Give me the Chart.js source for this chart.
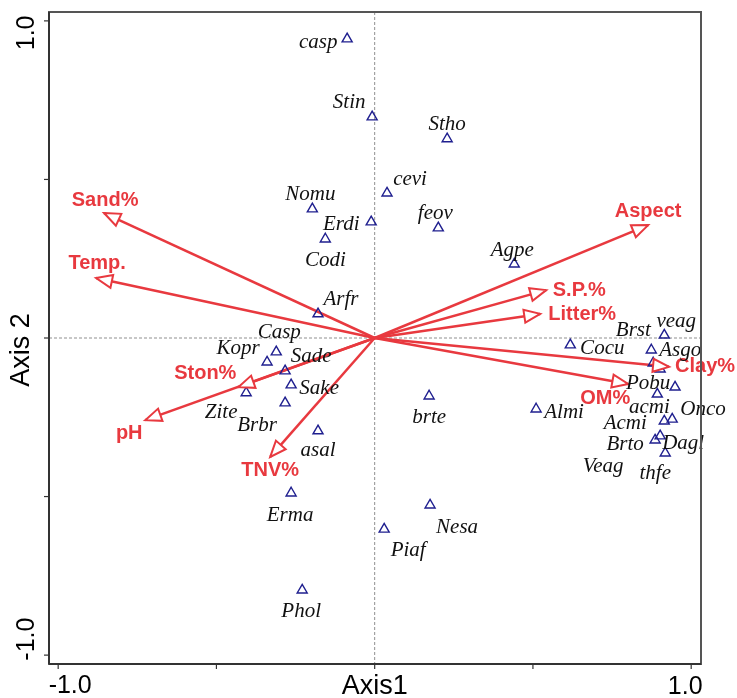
<!DOCTYPE html>
<html>
<head>
<meta charset="utf-8">
<script src="https://cdn.jsdelivr.net/npm/chart.js@4.4.0/dist/chart.umd.min.js"></script>
<style>
  html, body { margin: 0; padding: 0; background: #fff; }
  canvas { display: block; }
</style>
</head>
<body>
<canvas id="biplot" width="737" height="698"></canvas>
<script>
// species scores (axis 1, axis 2)
const species = ['casp', 'Stin', 'Stho', 'cevi', 'Nomu', 'Erdi', 'feov', 'Codi', 'Agpe', 'Arfr',
  'Casp', 'Kopr', 'Sade', 'Sake', 'Zite', 'Brbr', 'asal', 'Erma', 'Phol', 'Piaf',
  'Nesa', 'brte', 'Almi', 'Cocu', 'veag', 'Brst', 'Asgo', 'Pobu', 'Onco', 'acmi',
  'Acmi', 'Dagl', 'Brto', 'Veag', 'thfe'];
const speciesX = [-0.087, -0.008, 0.229, 0.039, -0.197, -0.011, 0.201, -0.156, 0.441, -0.179,
  -0.311, -0.340, -0.283, -0.264, -0.406, -0.283, -0.179, -0.264, -0.229, 0.030,
  0.175, 0.172, 0.510, 0.618, 0.915, 0.874, 0.880, 0.902, 0.949, 0.893,
  0.915, 0.940, 0.886, 0.902, 0.918];
const speciesY = [0.943, 0.697, 0.628, 0.457, 0.407, 0.366, 0.347, 0.312, 0.233, 0.076,
  -0.044, -0.076, -0.104, -0.148, -0.173, -0.205, -0.293, -0.489, -0.795, -0.603,
  -0.527, -0.183, -0.224, -0.022, 0.009, -0.038, -0.079, -0.098, -0.155, -0.177,
  -0.262, -0.256, -0.322, -0.309, -0.363];

// environmental variables (arrow tips)
const envVars = ['Sand%', 'Temp.', 'Ston%', 'pH', 'TNV%', 'Aspect', 'S.P.%', 'Litter%', 'Clay%', 'OM%'];
const envX = [-0.855, -0.880, -0.431, -0.725, -0.330, 0.864, 0.542, 0.523, 0.930, 0.801];
const envY = [0.394, 0.189, -0.155, -0.259, -0.375, 0.356, 0.151, 0.076, -0.091, -0.145];

// axes
const tickValues = [-1, -0.5, 0, 0.5, 1];
const xTickLabels = ['-1.0', '1.0'];
const yTickLabels = ['1.0', '-1.0'];
const xTitle = 'Axis1';
const yTitle = 'Axis 2';

// label placement, px offsets from the mark
const speciesLabelOffset = [[-29, 4], [-23, -14], [0, -14], [23, -14], [-2, -14], [-30, 3], [-3, -14], [0, 21], [-2, -14], [23, -14],
  [3, -19], [-29, -14], [26, -14], [28, 4], [-25, 20], [-28, 22], [0, 20], [-1, 22], [-1, 21], [24, 21],
  [27, 22], [0, 21], [28, 3], [32, 4], [12, -14], [-18, -20], [27, -13], [-12, 14], [28, 22], [-8, 13],
  [-39, 2], [11, 24], [-30, 4], [-57, 30], [-10, 20]];
const envLabelOffset = [[1, -13], [1, -15], [-33, -14], [-16, 13], [0, 14], [0, -14], [33, 0], [42, 1], [36, 0], [-23, 15]];

const RED = '#e8393f';
const NAVY = '#1f1f8f';

const datasets = [{
  label: 'species',
  data: species.map((s, i) => ({ x: speciesX[i], y: speciesY[i] })),
  pointStyle: 'triangle',
  pointRadius: 5.8,
  pointBorderColor: NAVY,
  pointBackgroundColor: 'rgba(0,0,0,0)',
  pointBorderWidth: 1.4,
  showLine: false
}];
envVars.forEach((v, i) => {
  datasets.push({
    label: v,
    type: 'line',
    data: [{ x: 0, y: 0 }, { x: envX[i], y: envY[i] }],
    borderColor: RED,
    borderWidth: 2.5,
    pointRadius: 0,
    fill: false
  });
});

function seg(ctx, x1, y1, x2, y2) {
  ctx.beginPath();
  ctx.moveTo(x1, y1);
  ctx.lineTo(x2, y2);
  ctx.stroke();
}

const biplotPlugin = {
  id: 'biplot',
  beforeDatasetsDraw(chart) {
    const { ctx, chartArea: a, scales: { x, y } } = chart;
    const x0 = x.getPixelForValue(0), y0 = y.getPixelForValue(0);
    ctx.save();
    ctx.strokeStyle = '#8f8f8f';
    ctx.lineWidth = 1;
    ctx.setLineDash([3, 2]);
    seg(ctx, a.left, y0, a.right, y0);
    seg(ctx, x0, a.top, x0, a.bottom);
    ctx.restore();
  },
  afterDatasetsDraw(chart) {
    const { ctx, chartArea: a, scales: { x, y } } = chart;
    const x0 = x.getPixelForValue(0), y0 = y.getPixelForValue(0);
    ctx.save();

    // arrow heads
    ctx.strokeStyle = RED;
    ctx.fillStyle = '#fff';
    ctx.lineWidth = 2;
    ctx.lineJoin = 'miter';
    envVars.forEach((v, i) => {
      const tx = x.getPixelForValue(envX[i]), ty = y.getPixelForValue(envY[i]);
      const dx = tx - x0, dy = ty - y0, len = Math.hypot(dx, dy);
      const ux = dx / len, uy = dy / len;
      const bx = tx - ux * 16, by = ty - uy * 16;
      ctx.beginPath();
      ctx.moveTo(tx, ty);
      ctx.lineTo(bx - uy * 6.5, by + ux * 6.5);
      ctx.lineTo(bx + uy * 6.5, by - ux * 6.5);
      ctx.closePath();
      ctx.fill();
      ctx.stroke();
    });

    // env labels
    ctx.fillStyle = RED;
    ctx.font = 'bold 20px "Liberation Sans", Arial, sans-serif';
    ctx.textAlign = 'center';
    ctx.textBaseline = 'middle';
    envVars.forEach((v, i) => {
      const tx = x.getPixelForValue(envX[i]), ty = y.getPixelForValue(envY[i]);
      ctx.fillText(v, tx + envLabelOffset[i][0], ty + envLabelOffset[i][1]);
    });

    // species labels
    ctx.fillStyle = '#111';
    ctx.font = 'italic 21px "Liberation Serif", "Times New Roman", serif';
    species.forEach((s, i) => {
      const px = x.getPixelForValue(speciesX[i]), py = y.getPixelForValue(speciesY[i]);
      ctx.fillText(s, px + speciesLabelOffset[i][0], py + speciesLabelOffset[i][1]);
    });

    // frame
    ctx.strokeStyle = '#555';
    ctx.lineWidth = 2;
    ctx.strokeRect(a.left, a.top, a.right - a.left, a.bottom - a.top);
    ctx.strokeStyle = '#333';
    seg(ctx, a.left, a.top, a.left, a.bottom);
    seg(ctx, a.left, a.bottom, a.right, a.bottom);

    // ticks
    ctx.lineWidth = 1.2;
    tickValues.forEach(t => {
      const px = x.getPixelForValue(t);
      seg(ctx, px, a.bottom, px, a.bottom + 5);
      const py = y.getPixelForValue(t);
      seg(ctx, a.left - 5, py, a.left, py);
    });

    // axis text
    ctx.fillStyle = '#000';
    ctx.font = '25px "Liberation Sans", Arial, sans-serif';
    ctx.fillText(xTickLabels[0], x.getPixelForValue(-1) + 12, a.bottom + 22);
    ctx.fillText(xTickLabels[1], x.getPixelForValue(1) - 6, a.bottom + 23);
    ctx.font = '27px "Liberation Sans", Arial, sans-serif';
    ctx.fillText(xTitle, x0, a.bottom + 23);

    ctx.font = '25px "Liberation Sans", Arial, sans-serif';
    [[yTickLabels[0], y.getPixelForValue(1) + 12], [yTickLabels[1], y.getPixelForValue(-1) - 16]].forEach(([txt, py]) => {
      ctx.save();
      ctx.translate(27, py);
      ctx.rotate(-Math.PI / 2);
      ctx.fillText(txt, 0, 0);
      ctx.restore();
    });
    ctx.font = '27px "Liberation Sans", Arial, sans-serif';
    ctx.save();
    ctx.translate(22, y0 + 12);
    ctx.rotate(-Math.PI / 2);
    ctx.fillText(yTitle, 0, 0);
    ctx.restore();

    ctx.restore();
  }
};

new Chart(document.getElementById('biplot').getContext('2d'), {
  type: 'scatter',
  data: { datasets: datasets },
  options: {
    responsive: false,
    animation: false,
    layout: { padding: { left: 49, right: 36, top: 12, bottom: 34 } },
    scales: {
      x: { type: 'linear', min: -1.029, max: 1.031, display: false },
      y: { type: 'linear', min: -1.028, max: 1.028, display: false }
    },
    plugins: { legend: { display: false }, tooltip: { enabled: false } }
  },
  plugins: [biplotPlugin]
});
</script>
</body>
</html>
